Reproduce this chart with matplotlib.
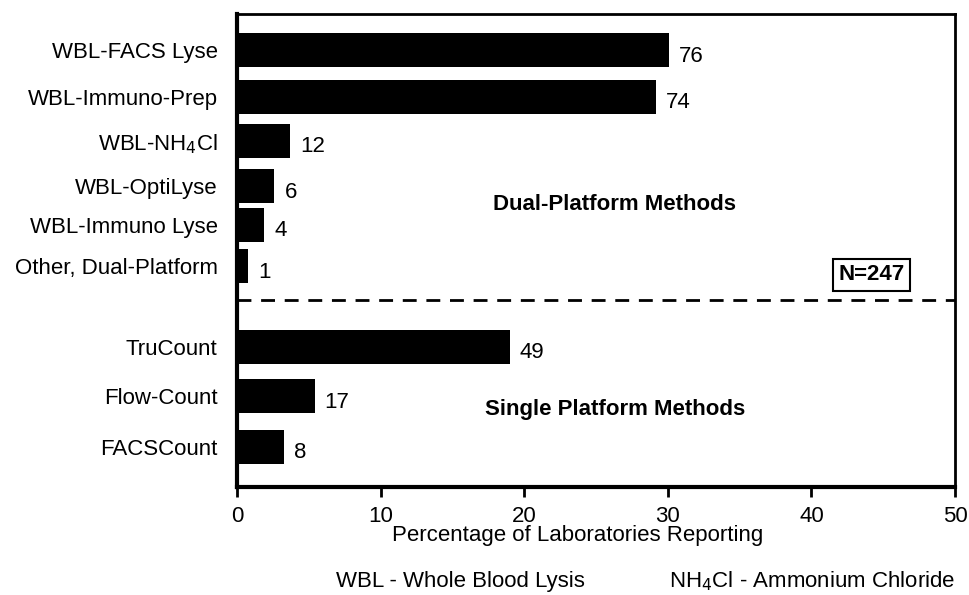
import matplotlib
matplotlib.use("Agg")
import matplotlib.pyplot as plt

plt.rcParams['font.family'] = ['Liberation Sans', 'DejaVu Sans']

categories = ["WBL-FACS Lyse", "WBL-Immuno-Prep", "WBL-NH$_4$Cl", "WBL-OptiLyse",
              "WBL-Immuno Lyse", "Other, Dual-Platform", "TruCount", "Flow-Count", "FACSCount"]
percent = [30.1, 29.2, 3.7, 2.6, 1.9, 0.8, 19.0, 5.4, 3.3]
counts = [76, 74, 12, 6, 4, 1, 49, 17, 8]
ypos = [50, 97, 141, 186, 225, 266, 347, 396, 447]

FS = 16
fig = plt.figure(figsize=(9.7, 5.95), dpi=100)
ax = fig.add_axes([237/970, (595-487)/595, 718/970, 473/595])
ax.barh(ypos, percent, height=34, color='black')
for y, p, c in zip(ypos, percent, counts):
    ax.text(p + 0.7, y + 6, str(c), va='center', ha='left', fontsize=FS)
ax.set_ylim(487, 14)
ax.set_xlim(0, 50)
ax.set_yticks(ypos)
ax.set_yticklabels(categories, fontsize=FS)
ax.tick_params(axis='y', length=0, pad=14)
ax.set_xticks([0, 10, 20, 30, 40, 50])
ax.tick_params(axis='x', labelsize=FS, length=7, width=2, direction='out', pad=7)
for s in ['left', 'bottom']:
    ax.spines[s].set_linewidth(3)
for s in ['top', 'right']:
    ax.spines[s].set_linewidth(2)
ax.axhline(300, color='black', lw=2, ls=(0, (5, 3.5)))
ax.text(26.3, 205, "Dual-Platform Methods", fontsize=FS, fontweight='bold', ha='center', va='center')
ax.text(26.3, 409, "Single Platform Methods", fontsize=FS, fontweight='bold', ha='center', va='center')
ax.text(44.2, 275, "N=247", fontsize=FS, fontweight='bold', ha='center', va='center',
        bbox=dict(boxstyle='square,pad=0.25', fc='white', ec='black', lw=1.5))
fig.text(578/970, 1-536/595, "Percentage of Laboratories Reporting", fontsize=FS, ha='center', va='center')
fig.text(460/970, 1-581/595, "WBL - Whole Blood Lysis", fontsize=FS, ha='center', va='center')
fig.text(955/970, 1-581/595, "NH$_4$Cl - Ammonium Chloride", fontsize=FS, ha='right', va='center')
fig.savefig("out.png", dpi=100)
